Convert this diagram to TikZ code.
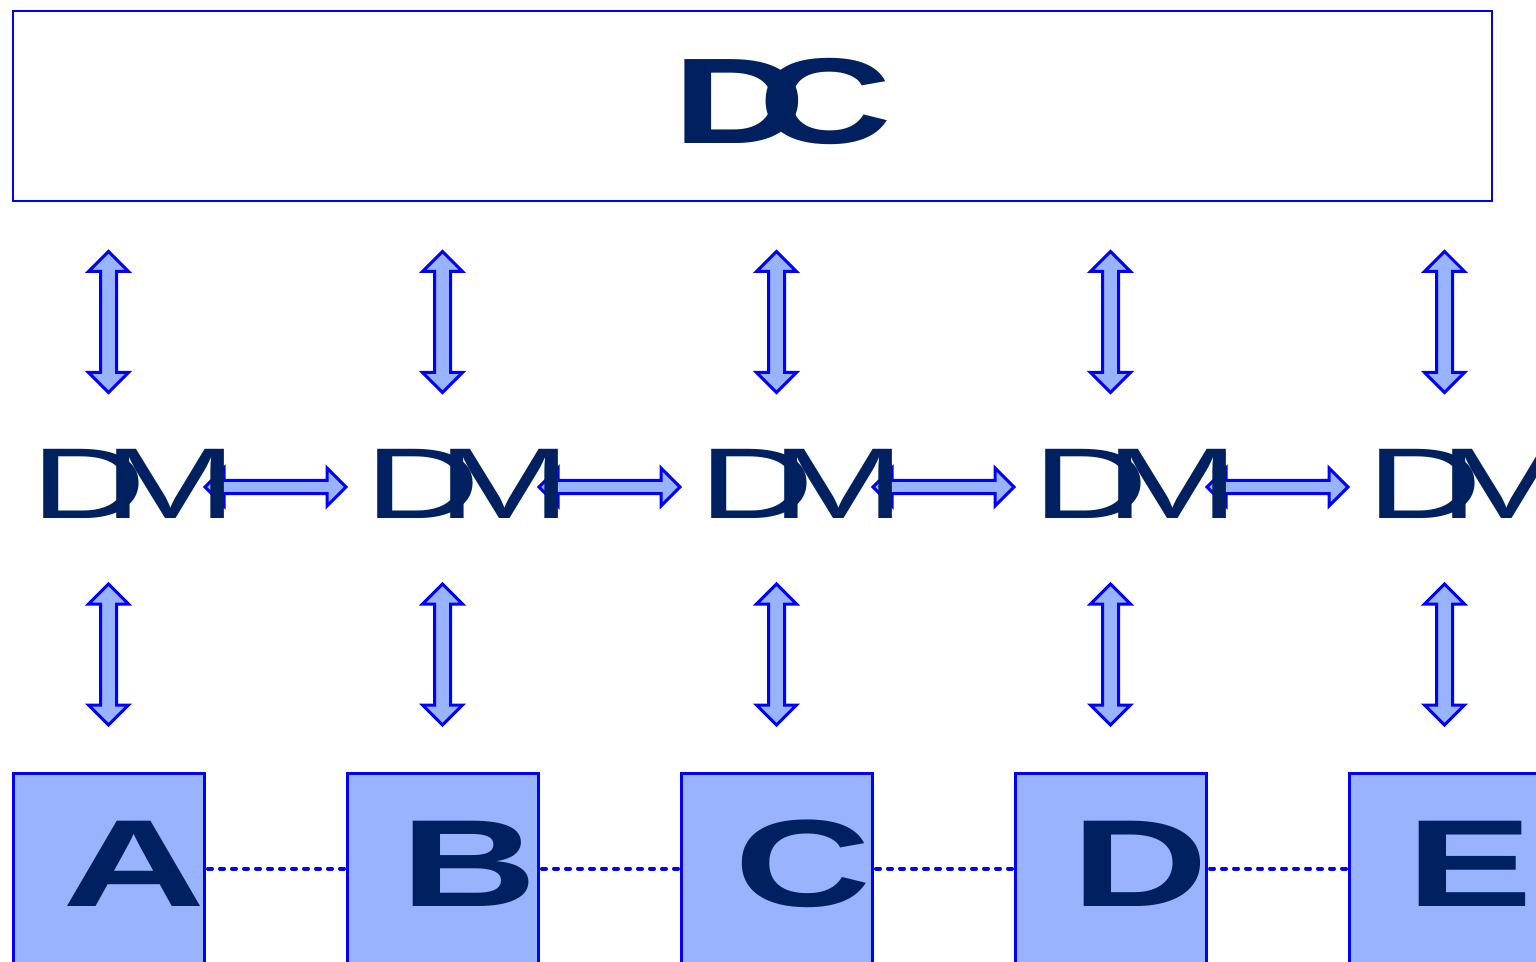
\documentclass[tikz,border=0pt]{standalone}
\usepackage{fontspec}
\setmainfont{Liberation Sans}
\usetikzlibrary{shapes.arrows,calc}
\definecolor{navy}{RGB}{0,32,96}
\definecolor{lblue}{RGB}{153,179,255}
\definecolor{pblue}{RGB}{0,0,255}
\pgfdeclarelayer{bg}
\pgfsetlayers{bg,main}
\newcommand{\bigletter}[2][1.53]{\scalebox{#1}[1]{\fontsize{124}{124}\selectfont\bfseries #2}}
\newcommand{\dmtext}{\scalebox{1.6}[1]{\fontsize{100.6}{100.6}\selectfont D\kern-0.27em M}}
\newcommand{\dctext}{\scalebox{1.52}[1]{\fontsize{122}{122}\selectfont\bfseries D\kern-0.26em C}}
\begin{document}
\begin{tikzpicture}[x=1pt,y=-1pt,
  boxstyle/.style={draw=pblue,line width=3pt,fill=lblue,minimum width=191pt,minimum height=191pt,inner sep=0pt,outer sep=0pt},
  topbox/.style={draw=pblue,line width=2.5pt,minimum width=1479pt,minimum height=190pt,inner sep=0pt,outer sep=0pt},
  dblarrow/.style={double arrow,draw=pblue,line width=3pt,fill=lblue,minimum height=141pt,minimum width=38pt,double arrow head extend=12pt,inner xsep=0pt,inner ysep=6.5pt,outer sep=0pt},
  lettertext/.style={anchor=base,inner sep=0pt,outer sep=0pt,text=navy},
  link/.style={draw=pblue,line width=4pt,line cap=round,dash pattern=on 4pt off 8pt}]
\clip (0,0) rectangle (1536,961);
% top box
\node[topbox] (dc) at (752.5,106) {};
\node[lettertext] (dct) at (782,143) {\dctext};
% bottom boxes
\node[boxstyle] (bA) at (108.5,868.5) {};
\node[boxstyle] (bB) at (442.5,868.5) {};
\node[boxstyle] (bC) at (776.5,868.5) {};
\node[boxstyle] (bD) at (1110.5,868.5) {};
\node[boxstyle] (bE) at (1444.5,868.5) {};
\node[lettertext] (tA) at (134.5,906) {\bigletter[1.6]{A}};
\node[lettertext] (tB) at (469,906) {\bigletter{B}};
\node[lettertext] (tC) at (802.5,906) {\bigletter{C}};
\node[lettertext] (tD) at (1140,906) {\bigletter{D}};
\node[lettertext] (tE) at (1470,906) {\bigletter{E}};
% dotted links
\draw[link] ([xshift=4pt]bA.east) -- (bB.west);
\draw[link] ([xshift=4pt]bB.east) -- (bC.west);
\draw[link] ([xshift=4pt]bC.east) -- (bD.west);
\draw[link] ([xshift=4pt]bD.east) -- (bE.west);
% DM nodes
\node[lettertext] (m1) at (134,518) {\dmtext};
\node[lettertext] (m2) at (468,518) {\dmtext};
\node[lettertext] (m3) at (802,518) {\dmtext};
\node[lettertext] (m4) at (1136,518) {\dmtext};
\node[lettertext] (m5) at (1470,518) {\dmtext};
% arrows behind texts
\begin{pgfonlayer}{bg}
\foreach \b/\m in {bA/m1,bB/m2,bC/m3,bD/m4,bE/m5}{
  \node[dblarrow,rotate=90] (u\m) at ($(dc.south -| \b)!0.5!(\m.north -| \b)+(0,-3)$) {};
  \node[dblarrow,rotate=90] (l\m) at ($(\m.base -| \b)!0.5!(\b.north)+(0,9)$) {};
}
\foreach \ba/\bb/\ma in {bA/bB/m1,bB/bC/m2,bC/bD/m3,bD/bE/m4}{
  \node[dblarrow,inner ysep=5pt] (h\ma) at ($(\ma.base -| \ba.east)!0.5!(\ma.base -| \bb.west)+(0,-31)$) {};
}
\end{pgfonlayer}
\end{tikzpicture}
\end{document}
